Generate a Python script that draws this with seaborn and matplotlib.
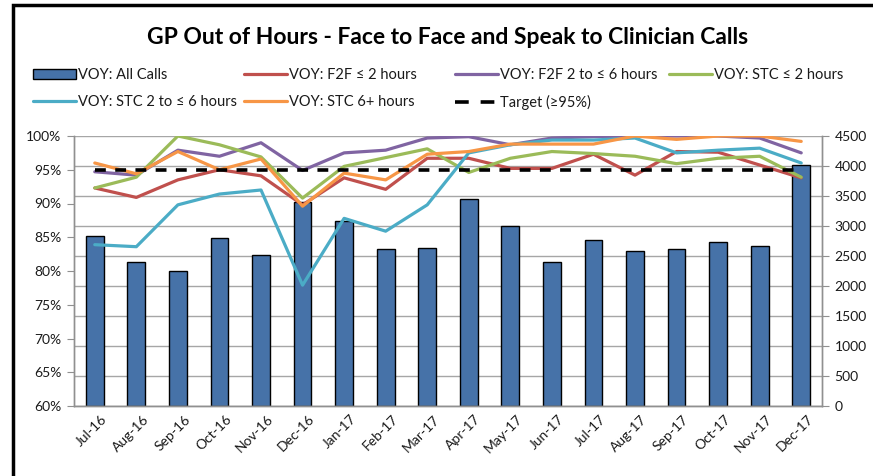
import numpy as np
import pandas as pd
import seaborn as sns
import matplotlib.pyplot as plt
import matplotlib.transforms as mtransforms
from matplotlib.lines import Line2D
from matplotlib.patches import Patch, Rectangle
from matplotlib.ticker import FixedLocator, PercentFormatter

# Data
months = ['Jul-16', 'Aug-16', 'Sep-16', 'Oct-16', 'Nov-16', 'Dec-16',
          'Jan-17', 'Feb-17', 'Mar-17', 'Apr-17', 'May-17', 'Jun-17',
          'Jul-17', 'Aug-17', 'Sep-17', 'Oct-17', 'Nov-17', 'Dec-17']
all_calls = [2830, 2400, 2250, 2800, 2510, 3400, 3080, 2610, 2630,
             3450, 3000, 2400, 2770, 2580, 2610, 2730, 2670, 4010]
f2f_2h = [92.3, 90.9, 93.5, 95.0, 94.1, 89.8, 93.8, 92.1, 96.7,
          96.7, 95.2, 95.2, 97.3, 94.2, 97.7, 97.6, 95.7, 93.8]
f2f_2_6h = [94.7, 94.2, 97.9, 97.0, 99.0, 94.9, 97.5, 97.9, 99.7,
            99.9, 98.7, 99.7, 99.9, 100.0, 100.0, 100.0, 99.7, 97.5]
stc_2h = [92.3, 93.9, 100.0, 98.7, 96.9, 90.8, 95.5, 96.8, 98.1,
          94.6, 96.7, 97.7, 97.4, 97.0, 95.9, 96.7, 97.0, 93.9]
stc_2_6h = [83.9, 83.6, 89.8, 91.4, 92.0, 77.9, 87.8, 85.9, 89.8,
            97.5, 98.7, 99.4, 99.4, 99.7, 97.5, 97.9, 98.2, 96.0]
stc_6h = [96.0, 94.4, 97.7, 95.0, 96.6, 89.6, 94.5, 93.5, 97.3,
          97.7, 98.8, 98.8, 98.8, 100.0, 99.5, 100.0, 100.0, 99.2]
target = [95] * len(months)

pct_ticks = [60, 65, 70, 75, 80, 85, 90, 95, 100]
count_ticks = [0, 500, 1000, 1500, 2000, 2500, 3000, 3500, 4000, 4500]

series = [
    ('VOY: F2F ≤ 2 hours', f2f_2h, '#C0504D'),
    ('VOY: F2F 2 to ≤ 6 hours', f2f_2_6h, '#8064A2'),
    ('VOY: STC ≤ 2 hours', stc_2h, '#9BBB59'),
    ('VOY: STC 2 to ≤ 6 hours', stc_2_6h, '#4BACC6'),
    ('VOY: STC 6+ hours', stc_6h, '#F79646'),
]
bar_color = '#4672A8'
grid_color = '#A6A6A6'
axis_color = '#909090'
text_color = '#1A1A1A'

sns.set_style('white')
plt.rcParams['font.family'] = ['Lato', 'DejaVu Sans']

W, H = 873, 476
fig = plt.figure(figsize=(W / 100, H / 100), dpi=100)
ax = fig.add_axes([74 / W, 1 - 406 / H, (822 - 74) / W, (406 - 136) / H])
idx = np.arange(len(months))

# bars on the count axis (right side), drawn underneath the lines
df_bar = pd.DataFrame({'x': idx, 'calls': all_calls})
sns.barplot(data=df_bar, x='x', y='calls', color=bar_color, saturation=1,
            width=0.43, edgecolor='black', linewidth=1, ax=ax, native_scale=True)
ax.set_xlim(-0.5, len(months) - 0.5)
ax.set_ylim(0, 4500)
ax.set_yticks(count_ticks)
ax.set_axisbelow(True)
ax.grid(axis='y', color=grid_color, lw=1)
ax.set_xlabel('')
ax.set_ylabel('')

# percentage lines on the left axis
ax_l = ax.twinx()
ax.yaxis.tick_right()
ax_l.yaxis.tick_left()
for name, vals, col in series:
    sns.lineplot(x=idx, y=vals, color=col, lw=2.3, ax=ax_l)
sns.lineplot(x=idx, y=target, color='black', lw=2.6, ax=ax_l)
ax_l.lines[-1].set_linestyle((0, (3, 2.6)))
ax_l.set_ylim(60, 100)
ax_l.set_yticks(pct_ticks)
ax_l.yaxis.set_major_formatter(PercentFormatter(decimals=0))
ax_l.set_xlim(-0.5, len(months) - 0.5)
ax_l.set_ylabel('')

# spines and ticks
for a in (ax, ax_l):
    a.spines['top'].set_visible(False)
    for s in ('left', 'right', 'bottom'):
        a.spines[s].set_color(axis_color)
        a.spines[s].set_linewidth(1)
for a in (ax, ax_l):
    a.tick_params(axis='y', direction='out', length=5, color=axis_color,
                  labelsize=10, labelcolor=text_color, pad=4)

ax.set_xticks(idx)
ax.set_xticklabels(months, rotation=45, ha='right', rotation_mode='anchor',
                   fontsize=10, color=text_color)
ax.xaxis.set_minor_locator(FixedLocator(np.arange(-0.5, len(months), 1)))
ax.tick_params(axis='x', which='major', length=0, pad=5)
ax.tick_params(axis='x', which='minor', direction='out', length=5, color=axis_color)
ax_l.tick_params(axis='x', which='both', length=0, labelbottom=False)
offset = mtransforms.ScaledTranslation(6 / 100, 0, fig.dpi_scale_trans)
for lbl in ax.get_xticklabels():
    lbl.set_transform(lbl.get_transform() + offset)

# title
fig.text(448 / W, 1 - 37 / H, 'GP Out of Hours - Face to Face and Speak to Clinician Calls',
         ha='center', va='center', fontsize=16.5, fontweight='bold', color='black')

# legend, laid out in fixed columns like the original
handles = {
    'VOY: All Calls': Patch(facecolor=bar_color, edgecolor='black', lw=1),
    'Target (≥95%)': Line2D([], [], color='black', lw=2.6, ls=(0, (3.8, 3.3))),
}
for name, vals, col in series:
    handles[name] = Line2D([], [], color=col, lw=2.3)
columns = [
    (33, ['VOY: All Calls', 'VOY: STC 2 to ≤ 6 hours']),
    (244, ['VOY: F2F ≤ 2 hours', 'VOY: STC 6+ hours']),
    (455, ['VOY: F2F 2 to ≤ 6 hours', 'Target (≥95%)']),
    (669, ['VOY: STC ≤ 2 hours']),
]
for x0, names in columns:
    fig.legend([handles[n] for n in names], names, loc='upper left',
               bbox_to_anchor=(x0 / W, 1 - 68 / H), frameon=False,
               fontsize=10.5, handlelength=2.95, handletextpad=0.15,
               labelspacing=0.9, borderpad=0, borderaxespad=0,
               labelcolor=text_color)

# outer chart frame
fig.patches.append(Rectangle((13 / W, -0.1), 1.2, 1.1 - 5 / H, transform=fig.transFigure,
                             fill=False, edgecolor='black', lw=2.5))

fig.savefig('out.png', dpi=100)
plt.close()
